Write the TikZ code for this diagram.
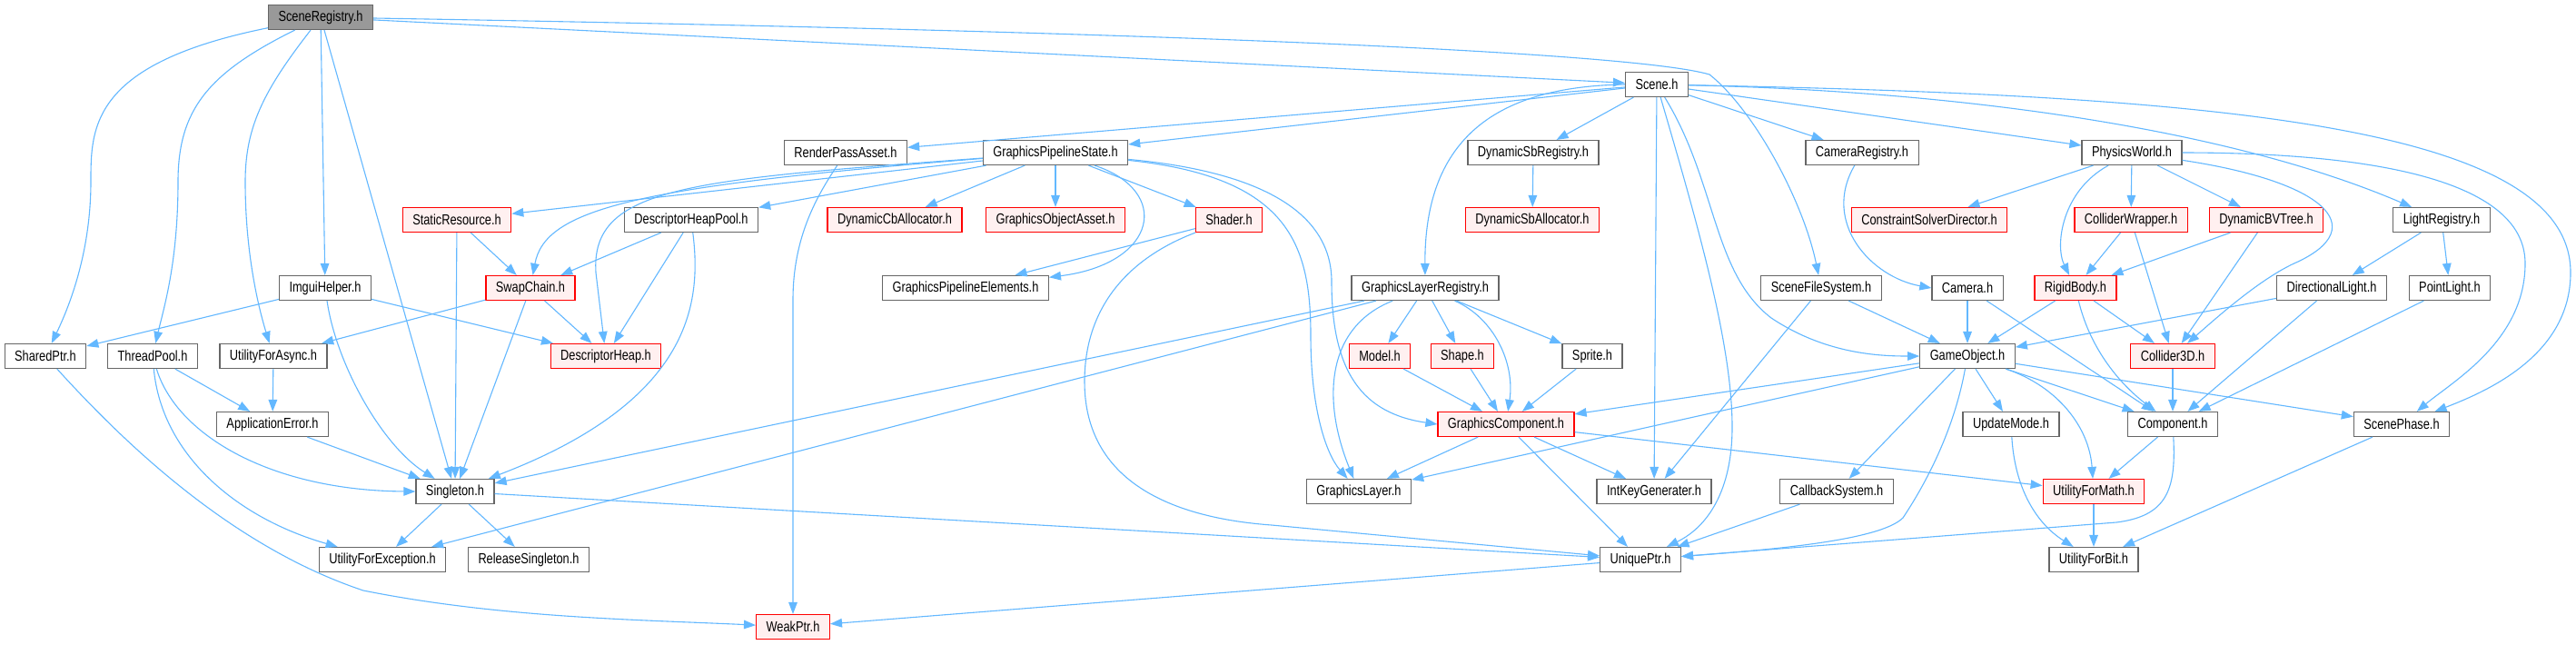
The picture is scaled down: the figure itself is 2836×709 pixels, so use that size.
\documentclass[tikz,border=0pt]{standalone}
\usepackage{fontspec}
\setmainfont{Liberation Sans}[FakeStretch=0.8]
\usepackage{tikz}
\usetikzlibrary{arrows.meta}

\definecolor{edgeblue}{HTML}{63B8FF}
\definecolor{boxgrey}{HTML}{666666}
\definecolor{rootgrey}{HTML}{999999}
\definecolor{truncfill}{HTML}{FFF0F0}

\tikzset{
  hfile/.style={draw=boxgrey, fill=white, line width=0.6pt, inner xsep=5.5pt,
    inner ysep=0pt, minimum height=13.5pt, font=\fontsize{8}{9}\selectfont},
  rootfile/.style={hfile, fill=rootgrey},
  trunc/.style={hfile, draw=red, fill=truncfill},
  dep/.style={draw=edgeblue, line width=0.55pt, -{Triangle[length=6.5pt,width=4.8pt]}},
}

\begin{document}
\begin{tikzpicture}[x=0.5pt, y=-0.5pt]
  \useasboundingbox[fill=white] (0,0) rectangle (2836,709);

  % top: the file itself and Scene.h
  \node[rootfile] (sreg) at (353,19) {SceneRegistry.h};
  \node[hfile] (scene) at (1824,93) {Scene.h};

  % row 2
  \node[hfile] (rpass) at (931,168) {RenderPassAsset.h};
  \node[hfile] (gps) at (1162,168) {GraphicsPipelineState.h};
  \node[hfile] (dsbreg) at (1688,168) {DynamicSbRegistry.h};
  \node[hfile] (camreg) at (2050,168) {CameraRegistry.h};
  \node[hfile] (phys) at (2347,168) {PhysicsWorld.h};

  % row 3
  \node[trunc] (sres) at (503,242) {StaticResource.h};
  \node[hfile] (dhpool) at (761,242) {DescriptorHeapPool.h};
  \node[trunc] (dcb) at (985,242) {DynamicCbAllocator.h};
  \node[trunc] (goa) at (1162,242) {GraphicsObjectAsset.h};
  \node[trunc] (shader) at (1353,242) {Shader.h};
  \node[trunc] (dsballoc) at (1687,242) {DynamicSbAllocator.h};
  \node[trunc] (csd) at (2124,242) {ConstraintSolverDirector.h};
  \node[trunc] (colw) at (2346,242) {ColliderWrapper.h};
  \node[trunc] (dbvt) at (2495,242) {DynamicBVTree.h};
  \node[hfile] (lreg) at (2688,242) {LightRegistry.h};

  % row 4
  \node[hfile] (imgui) at (358,317) {ImguiHelper.h};
  \node[trunc] (swap) at (584,317) {SwapChain.h};
  \node[hfile] (gpe) at (1063,317) {GraphicsPipelineElements.h};
  \node[hfile] (glreg) at (1569,317) {GraphicsLayerRegistry.h};
  \node[hfile] (sfs) at (2005,317) {SceneFileSystem.h};
  \node[hfile] (cam) at (2166,317) {Camera.h};
  \node[trunc] (rigid) at (2285,317) {RigidBody.h};
  \node[hfile] (dlight) at (2567,317) {DirectionalLight.h};
  \node[hfile] (plight) at (2697,317) {PointLight.h};

  % row 5
  \node[hfile] (shptr) at (50,392) {SharedPtr.h};
  \node[hfile] (tpool) at (168,392) {ThreadPool.h};
  \node[hfile] (uasync) at (301,392) {UtilityForAsync.h};
  \node[trunc] (dheap) at (667,392) {DescriptorHeap.h};
  \node[trunc] (model) at (1519,392) {Model.h};
  \node[trunc] (shape) at (1610,392) {Shape.h};
  \node[hfile] (sprite) at (1753,392) {Sprite.h};
  \node[hfile] (gobj) at (2166,392) {GameObject.h};
  \node[trunc] (col3d) at (2392,392) {Collider3D.h};

  % row 6
  \node[hfile] (apperr) at (300,467) {ApplicationError.h};
  \node[trunc] (gcomp) at (1658,467) {GraphicsComponent.h};
  \node[hfile] (upmode) at (2214,467) {UpdateMode.h};
  \node[hfile] (comp) at (2392,467) {Component.h};
  \node[hfile] (sphase) at (2644,467) {ScenePhase.h};

  % row 7
  \node[hfile] (single) at (501,541) {Singleton.h};
  \node[hfile] (glayer) at (1496,541) {GraphicsLayer.h};
  \node[hfile] (intkey) at (1821,541) {IntKeyGenerater.h};
  \node[hfile] (cbsys) at (2022,541) {CallbackSystem.h};
  \node[trunc] (umath) at (2305,541) {UtilityForMath.h};

  % row 8 / 9
  \node[hfile] (uexc) at (421,616) {UtilityForException.h};
  \node[hfile] (relsing) at (582,616) {ReleaseSingleton.h};
  \node[hfile] (uptr) at (1806,616) {UniquePtr.h};
  \node[hfile] (ubit) at (2305,616) {UtilityForBit.h};
  \node[trunc] (wptr) at (873,690) {WeakPtr.h};

  % straight includes
  \foreach \a/\b in {sreg/imgui, sreg/single, sreg/scene,
      scene/rpass, scene/gps, scene/dsbreg, scene/intkey, scene/camreg, scene/phys,
      gps/sres, gps/dhpool, gps/dcb, gps/goa, gps/shader, dsbreg/dsballoc,
      phys/csd, phys/colw, phys/dbvt,
      sres/swap, sres/single, dhpool/swap, dhpool/dheap, shader/gpe,
      colw/rigid, colw/col3d, dbvt/rigid, dbvt/col3d, lreg/dlight, lreg/plight,
      imgui/shptr, imgui/dheap, swap/uasync, swap/single, swap/dheap,
      glreg/single, glreg/uexc, glreg/model, glreg/shape, glreg/sprite,
      sfs/intkey, sfs/gobj, cam/gobj, cam/comp, rigid/gobj, rigid/col3d,
      dlight/gobj, dlight/comp, plight/comp,
      tpool/apperr, uasync/apperr, model/gcomp, shape/gcomp, sprite/gcomp,
      gobj/gcomp, gobj/glayer, gobj/cbsys, gobj/upmode, gobj/comp, gobj/sphase,
      col3d/comp, apperr/single, gcomp/glayer, gcomp/intkey, gcomp/uptr, gcomp/umath,
      comp/umath, sphase/ubit, single/uexc, single/relsing, single/uptr,
      cbsys/uptr, umath/ubit, uptr/wptr}
    \draw[dep] (\a) -- (\b);

  % SceneRegistry.h, bent ones
  \draw[dep] (sreg) .. controls (1300,35) and (1800,58) .. (1882,82)
    .. controls (1930,120) and (1985,220) .. (sfs);
  \draw[dep] (sreg) .. controls (100,70) and (100,140) .. (100,200)
    .. controls (100,280) and (75,340) .. (shptr);
  \draw[dep] (sreg) .. controls (230,80) and (196,120) .. (196,200)
    .. controls (196,290) and (180,340) .. (tpool);
  \draw[dep] (sreg) .. controls (290,100) and (270,140) .. (270,200)
    .. controls (270,280) and (285,340) .. (uasync);

  % Scene.h
  \draw[dep] (scene.west) .. controls (1650,95) and (1568,150) .. (glreg);
  \draw[dep] (scene) .. controls (1870,250) and (1907,380) .. (1907,470)
    .. controls (1907,540) and (1880,580) .. (uptr);
  \draw[dep] (scene) .. controls (1890,200) and (1885,300) .. (1950,350)
    .. controls (2010,390) and (2070,392) .. (gobj.west);
  \draw[dep] (scene) .. controls (2150,100) and (2450,140) .. (lreg);
  \draw[dep] (scene) .. controls (2450,105) and (2830,140) .. (2830,300)
    .. controls (2830,390) and (2740,430) .. (sphase);

  % GraphicsPipelineState.h
  \draw[dep] (gps) .. controls (700,205) and (600,230) .. (swap);
  \draw[dep] (gps) .. controls (760,198) and (650,205) .. (656,300) -- (dheap);
  \draw[dep] (gps) .. controls (1290,210) and (1275,290) .. (gpe);
  \draw[dep] (gps) .. controls (1420,195) and (1443,270) .. (1443,370)
    .. controls (1443,450) and (1460,500) .. (glayer);
  \draw[dep] (gps) .. controls (1400,190) and (1466,240) .. (1466,310)
    .. controls (1466,410) and (1500,455) .. (gcomp.west);

  % the rest
  \draw[dep] (shader) .. controls (1240,285) and (1194,340) .. (1194,420)
    .. controls (1194,530) and (1290,570) .. (1400,578) -- (uptr);
  \draw[dep] (rpass) .. controls (900,215) and (873,260) .. (873,330) -- (wptr);
  \draw[dep] (dhpool) .. controls (772,330) and (765,440) .. (single);
  \draw[dep] (imgui) .. controls (370,400) and (420,490) .. (single);
  \draw[dep] (tpool) .. controls (195,480) and (300,540) .. (single.west);
  \draw[dep] (tpool) .. controls (178,500) and (260,570) .. (uexc);
  \draw[dep] (shptr) .. controls (130,480) and (250,600) .. (400,650)
    .. controls (550,680) and (700,682) .. (wptr);
  \draw[dep] (glreg) .. controls (1460,360) and (1455,440) .. (glayer);
  \draw[dep] (glreg) .. controls (1645,350) and (1668,400) .. (gcomp);
  \draw[dep] (camreg) .. controls (2005,245) and (2060,305) .. (cam.west);
  \draw[dep] (phys) .. controls (2270,210) and (2262,270) .. (rigid);
  \draw[dep] (phys) .. controls (2560,200) and (2610,250) .. (2530,288)
    .. controls (2490,305) and (2440,350) .. (col3d);
  \draw[dep] (phys.east) .. controls (2600,168) and (2780,195) .. (2780,290)
    .. controls (2780,375) and (2700,420) .. (sphase);
  \draw[dep] (rigid) .. controls (2300,380) and (2330,420) .. (comp);
  \draw[dep] (gobj) .. controls (2150,480) and (2115,540) .. (2095,570)
    .. controls (2070,595) and (1950,605) .. (uptr);
  \draw[dep] (gobj) .. controls (2265,425) and (2300,470) .. (umath);
  \draw[dep] (upmode) .. controls (2218,535) and (2240,575) .. (ubit);
  \draw[dep] (comp) .. controls (2396,540) and (2385,568) .. (2330,575) -- (uptr);
\end{tikzpicture}
\end{document}
